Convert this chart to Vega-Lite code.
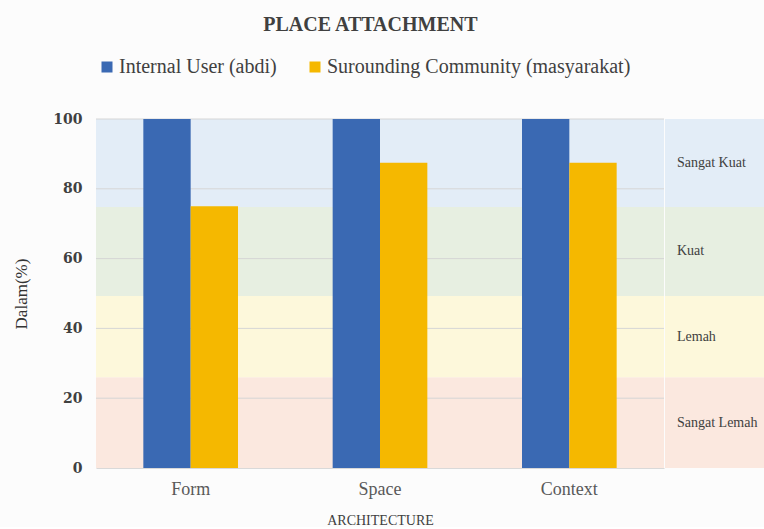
{
  "$schema": "https://vega.github.io/schema/vega-lite/v6.json",
  "background": "#fcfcfc",
  "padding": {"left": 12, "right": 0, "top": 15, "bottom": 0},
  "title": {"text": "PLACE ATTACHMENT", "font": "Liberation Serif", "fontSize": 20, "fontWeight": "bold", "color": "#404040", "anchor": "middle", "offset": 22, "dx": -18},
  "datasets": {
    "bars": [
      {"cat": "Form", "series": "Internal User (abdi)", "value": 100},
      {"cat": "Form", "series": "Surounding Community (masyarakat)", "value": 75},
      {"cat": "Space", "series": "Internal User (abdi)", "value": 100},
      {"cat": "Space", "series": "Surounding Community (masyarakat)", "value": 87.5},
      {"cat": "Context", "series": "Internal User (abdi)", "value": 100},
      {"cat": "Context", "series": "Surounding Community (masyarakat)", "value": 87.5}
    ],
    "bands": [
      {"band": "Sangat Lemah", "lo": 0, "hi": 26},
      {"band": "Lemah", "lo": 26, "hi": 49.3},
      {"band": "Kuat", "lo": 49.3, "hi": 74.8},
      {"band": "Sangat Kuat", "lo": 74.8, "hi": 100}
    ],
    "grid": [{"v": 20}, {"v": 40}, {"v": 60}, {"v": 80}, {"v": 100}]
  },
  "spacing": 0,
  "hconcat": [
    {
      "width": 568,
      "height": 349,
      "layer": [
        {
          "data": {"name": "bands"},
          "mark": {"type": "rect"},
          "encoding": {
            "y": {"field": "lo", "type": "quantitative", "scale": {"domain": [0, 100], "nice": false},
              "axis": {"title": "Dalam(%)", "values": [0, 20, 40, 60, 80, 100], "grid": false, "ticks": false, "domain": false,
                "labelFont": "DejaVu Serif", "labelFontSize": 14, "labelFontWeight": "bold", "labelColor": "#404040", "labelPadding": 14,
                "titleFont": "Liberation Serif", "titleFontSize": 17, "titleFontWeight": "normal", "titleColor": "#333333", "titlePadding": 22}},
            "y2": {"field": "hi"},
            "fill": {"field": "band", "type": "nominal", "legend": null,
              "scale": {"domain": ["Sangat Lemah", "Lemah", "Kuat", "Sangat Kuat"], "range": ["#fbe8df", "#fdf8db", "#e7efe1", "#e3edf7"]}}
          }
        },
        {
          "data": {"name": "grid"},
          "mark": {"type": "rule", "color": "#d6d6d6", "strokeWidth": 1},
          "encoding": {"y": {"field": "v", "type": "quantitative"}}
        },
        {
          "data": {"name": "bars"},
          "mark": {"type": "bar"},
          "encoding": {
            "x": {"field": "cat", "type": "nominal", "sort": ["Form", "Space", "Context"],
              "scale": {"paddingInner": 0.5, "paddingOuter": 0.25},
              "axis": {"title": "ARCHITECTURE", "labelAngle": 0, "ticks": false, "domainColor": "#d9d9d9",
                "labelFont": "Liberation Serif", "labelFontSize": 18, "labelColor": "#595959", "labelPadding": 12,
                "titleFont": "Liberation Serif", "titleFontSize": 14, "titleFontWeight": "normal", "titleColor": "#404040", "titlePadding": 15}},
            "xOffset": {"field": "series", "type": "nominal", "sort": ["Internal User (abdi)", "Surounding Community (masyarakat)"], "scale": {"paddingInner": 0}},
            "y": {"field": "value", "type": "quantitative"},
            "color": {"field": "series", "type": "nominal",
              "scale": {"domain": ["Internal User (abdi)", "Surounding Community (masyarakat)"], "range": ["#3a69b3", "#f5b800"]},
              "legend": {"title": null, "orient": "none", "legendX": 1, "legendY": -62, "direction": "horizontal",
                "symbolType": "square", "symbolSize": 121, "symbolStrokeWidth": 0, "labelFont": "Liberation Serif", "labelFontSize": 20,
                "labelColor": "#404040", "labelOffset": 2, "columnPadding": 28, "labelLimit": 400}}
          }
        }
      ]
    },
    {
      "width": 99,
      "height": 349,
      "data": {"name": "bands"},
      "layer": [
        {
          "mark": {"type": "rect"},
          "encoding": {
            "y": {"field": "lo", "type": "quantitative", "scale": {"domain": [0, 100], "nice": false}, "axis": null},
            "y2": {"field": "hi"},
            "fill": {"field": "band", "type": "nominal", "legend": null,
              "scale": {"domain": ["Sangat Lemah", "Lemah", "Kuat", "Sangat Kuat"], "range": ["#fbe8df", "#fdf8db", "#e7efe1", "#e3edf7"]}}
          }
        },
        {
          "transform": [{"calculate": "(datum.lo + datum.hi) / 2", "as": "mid"}],
          "mark": {"type": "text", "align": "left", "baseline": "middle", "dx": -37.5, "font": "Liberation Serif", "fontSize": 14, "color": "#404040"},
          "encoding": {
            "y": {"field": "mid", "type": "quantitative", "scale": {"domain": [0, 100], "nice": false}, "axis": null},
            "text": {"field": "band"}
          }
        }
      ]
    }
  ],
  "resolve": {"legend": {"color": "independent"}},
  "config": {"view": {"stroke": null}}
}
